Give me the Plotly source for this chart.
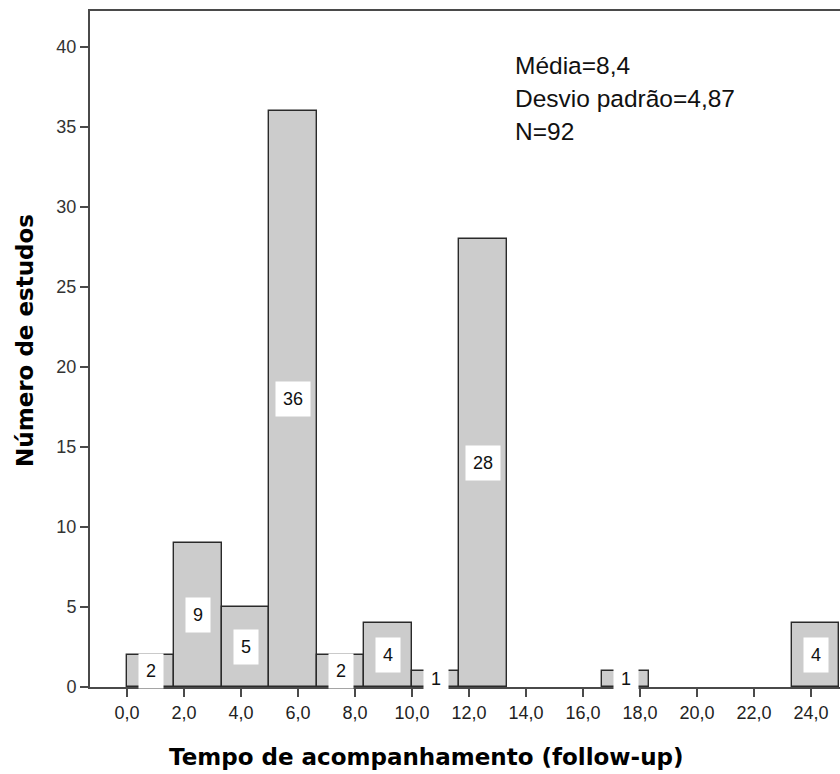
import plotly.graph_objects as go

# Data
bin_edges = [0.0, 5/3, 10/3, 5.0, 20/3, 25/3, 10.0, 35/3, 40/3, 15.0, 50/3, 55/3, 20.0, 65/3, 70/3, 25.0]
counts = [2, 9, 5, 36, 2, 4, 1, 28, 0, 0, 1, 0, 0, 0, 4]
x_tick_vals = [0, 2, 4, 6, 8, 10, 12, 14, 16, 18, 20, 22, 24]
x_tick_text = ["0,0", "2,0", "4,0", "6,0", "8,0", "10,0", "12,0", "14,0", "16,0", "18,0", "20,0", "22,0", "24,0"]
y_tick_vals = [0, 5, 10, 15, 20, 25, 30, 35, 40]
stats_lines = ["Média=8,4", "Desvio padrão=4,87", "N=92"]
x_title = "Tempo de acompanhamento (follow-up)"
y_title = "Número de estudos"

centers = [(a + b) / 2 for a, b in zip(bin_edges[:-1], bin_edges[1:])]
widths = [b - a for a, b in zip(bin_edges[:-1], bin_edges[1:])]
nz = [i for i, v in enumerate(counts) if v > 0]

fig = go.Figure()
fig.add_trace(go.Bar(
    x=[centers[i] for i in nz], y=[counts[i] for i in nz], width=[widths[i] for i in nz],
    marker=dict(color="#cccccc", line=dict(color="#2a2a2a", width=1.4)),
    hoverinfo="skip", showlegend=False,
))

for i in nz:
    fig.add_annotation(
        x=centers[i], y=counts[i] / 2, text=str(counts[i]), showarrow=False,
        font=dict(family="Liberation Sans, Arial", size=18, color="#111"),
        bgcolor="white", borderpad=7,
    )

stat_y = [0.920, 0.871, 0.822]
for line, yy in zip(stats_lines, stat_y):
    fig.add_annotation(
        xref="paper", yref="paper", x=0.5635, y=yy,
        xanchor="left", yanchor="middle", text=line, showarrow=False,
        font=dict(family="Liberation Sans, Arial", size=24.5, color="#111"),
    )

title_font = dict(family="DejaVu Sans", size=23, color="#000")
fig.add_annotation(
    xref="paper", yref="paper", x=0.449, y=-0.103, xanchor="center", yanchor="middle",
    text="<b>" + x_title + "</b>", showarrow=False, font=title_font,
)
fig.add_annotation(
    xref="paper", yref="paper", x=-0.087, y=0.513, xanchor="center", yanchor="middle",
    text="<b>" + y_title + "</b>", showarrow=False, font=title_font, textangle=-90,
)

axis_color = "#4a4a4a"
fig.update_layout(
    width=840, height=774,
    margin=dict(l=90, r=0, t=11, b=87),
    plot_bgcolor="white", paper_bgcolor="white",
    bargap=0,
    xaxis=dict(
        range=[-1.298, 25.02], tickvals=x_tick_vals, ticktext=x_tick_text,
        ticks="outside", ticklen=8, tickwidth=2, tickcolor=axis_color,
        showline=True, linecolor=axis_color, linewidth=2, mirror=True,
        showgrid=False, zeroline=False,
        tickfont=dict(family="Liberation Sans, Arial", size=18, color="#222"),
    ),
    yaxis=dict(
        range=[0, 42.25], tickvals=y_tick_vals,
        ticks="outside", ticklen=8, tickwidth=2, tickcolor=axis_color,
        showline=True, linecolor=axis_color, linewidth=2,
        showgrid=False, zeroline=False,
        tickfont=dict(family="Liberation Sans, Arial", size=18, color="#333"),
    ),
)

fig.write_html("out.html")
